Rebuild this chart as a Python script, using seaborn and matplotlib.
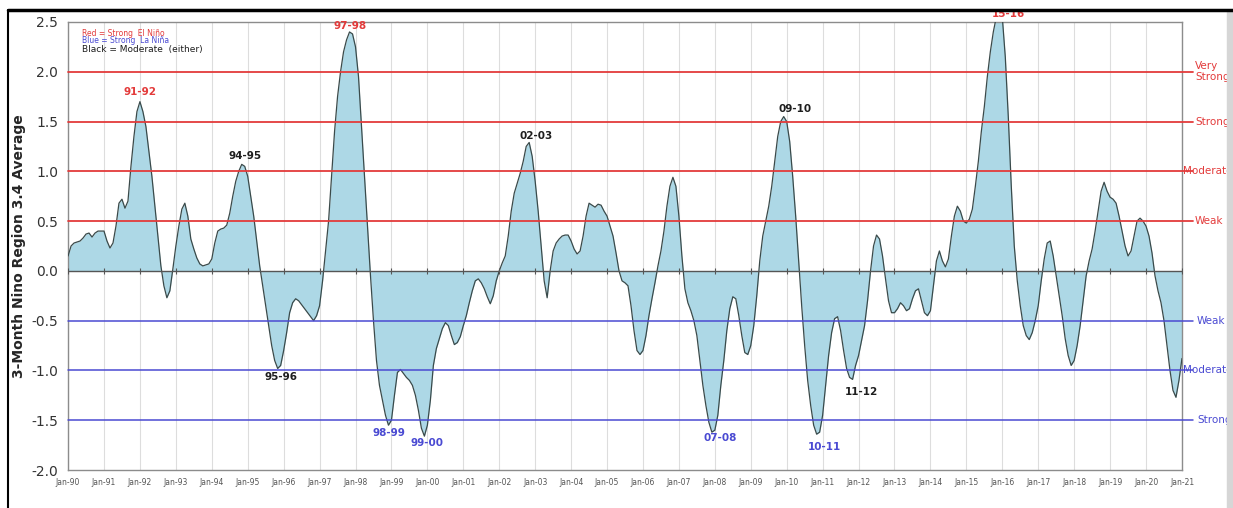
import numpy as np
import pandas as pd
import matplotlib
matplotlib.use("Agg")
import matplotlib.pyplot as plt
from matplotlib.lines import Line2D
from matplotlib.patches import Rectangle
import seaborn as sns

# 3-month Nino 3.4 average, monthly, Jan 1990 .. Jan 2021
oni = [
    # 1990
    0.15, 0.25, 0.28, 0.29, 0.30, 0.33, 0.37, 0.38, 0.34, 0.38, 0.40, 0.40,
    # 1991
    0.40, 0.30, 0.23, 0.28, 0.45, 0.68, 0.72, 0.63, 0.70, 1.05, 1.35, 1.60,
    # 1992
    1.70, 1.60, 1.45, 1.20, 0.95, 0.65, 0.35, 0.05, -0.15, -0.27, -0.20, 0.02,
    # 1993
    0.25, 0.45, 0.62, 0.68, 0.55, 0.32, 0.22, 0.13, 0.07, 0.05, 0.06, 0.07,
    # 1994
    0.12, 0.28, 0.40, 0.42, 0.43, 0.46, 0.58, 0.75, 0.90, 1.00, 1.07, 1.05,
    # 1995
    0.95, 0.75, 0.55, 0.30, 0.05, -0.15, -0.35, -0.55, -0.75, -0.90, -0.98, -0.95,
    # 1996
    -0.80, -0.62, -0.42, -0.32, -0.28, -0.30, -0.34, -0.38, -0.42, -0.46, -0.50, -0.45,
    # 1997
    -0.35, -0.10, 0.20, 0.50, 0.95, 1.40, 1.75, 2.00, 2.20, 2.32, 2.40, 2.38,
    # 1998
    2.25, 1.95, 1.45, 0.95, 0.45, -0.05, -0.50, -0.90, -1.15, -1.30, -1.45, -1.55,
    # 1999
    -1.50, -1.25, -1.02, -0.99, -1.03, -1.07, -1.10, -1.15, -1.25, -1.40, -1.58, -1.66,
    # 2000
    -1.55, -1.30, -0.95, -0.78, -0.68, -0.58, -0.52, -0.55, -0.65, -0.74, -0.72, -0.66,
    # 2001
    -0.55, -0.45, -0.32, -0.20, -0.10, -0.08, -0.12, -0.18, -0.26, -0.33, -0.25, -0.10,
    # 2002
    0.00, 0.08, 0.15, 0.35, 0.60, 0.78, 0.88, 0.98, 1.10, 1.25, 1.29, 1.15,
    # 2003
    0.90, 0.60, 0.25, -0.10, -0.27, 0.00, 0.20, 0.28, 0.32, 0.35, 0.36, 0.36,
    # 2004
    0.30, 0.22, 0.17, 0.20, 0.35, 0.55, 0.68, 0.66, 0.64, 0.67, 0.66, 0.60,
    # 2005
    0.55, 0.45, 0.35, 0.18, 0.00, -0.10, -0.12, -0.15, -0.35, -0.60, -0.80, -0.84,
    # 2006
    -0.80, -0.65, -0.45, -0.28, -0.12, 0.05, 0.20, 0.40, 0.65, 0.85, 0.94, 0.85,
    # 2007
    0.55, 0.15, -0.18, -0.32, -0.40, -0.50, -0.65, -0.90, -1.15, -1.35, -1.52, -1.62,
    # 2008
    -1.60, -1.45, -1.15, -0.90, -0.60, -0.38, -0.26, -0.28, -0.45, -0.65, -0.82, -0.84,
    # 2009
    -0.75, -0.55, -0.25, 0.10, 0.35, 0.50, 0.65, 0.85, 1.10, 1.35, 1.50, 1.55,
    # 2010
    1.50, 1.30, 0.95, 0.55, 0.10, -0.35, -0.75, -1.10, -1.35, -1.55, -1.64, -1.62,
    # 2011
    -1.45, -1.15, -0.85, -0.62, -0.48, -0.46, -0.60, -0.80, -0.98, -1.07, -1.09, -0.95,
    # 2012
    -0.85, -0.70, -0.55, -0.30, 0.00, 0.25, 0.36, 0.32, 0.15, -0.08, -0.30, -0.42,
    # 2013
    -0.42, -0.38, -0.32, -0.35, -0.40, -0.38, -0.28, -0.20, -0.18, -0.30, -0.42, -0.45,
    # 2014
    -0.40, -0.15, 0.10, 0.20, 0.10, 0.04, 0.12, 0.35, 0.55, 0.65, 0.60, 0.50,
    # 2015
    0.48, 0.52, 0.62, 0.85, 1.10, 1.40, 1.65, 1.95, 2.20, 2.40, 2.55, 2.60,
    # 2016
    2.55, 2.15, 1.55, 0.85, 0.25, -0.10, -0.35, -0.55, -0.65, -0.69, -0.62, -0.50,
    # 2017
    -0.35, -0.10, 0.12, 0.28, 0.30, 0.15, -0.05, -0.25, -0.45, -0.68, -0.85, -0.95,
    # 2018
    -0.90, -0.75, -0.55, -0.30, -0.05, 0.10, 0.22, 0.40, 0.60, 0.80, 0.89, 0.80,
    # 2019
    0.74, 0.72, 0.68, 0.55, 0.40, 0.25, 0.15, 0.20, 0.35, 0.50, 0.53, 0.50,
    # 2020
    0.45, 0.35, 0.18, -0.05, -0.20, -0.32, -0.50, -0.75, -1.00, -1.20, -1.27, -1.10,
    # 2021
    -0.88,
]

years = list(range(1990, 2022))
tick_labels = [f"Jan-{y % 100:02d}" for y in years]

nino_levels = [2.0, 1.5, 1.0, 0.5]
nino_names = ["Very\nStrong", "Strong", "Moderate", "Weak"]
nina_levels = [-0.5, -1.0, -1.5]
nina_names = ["Weak", "Moderate", "Strong"]

event_labels = ["91-92", "94-95", "95-96", "97-98", "98-99", "99-00",
                "02-03", "07-08", "09-10", "10-11", "11-12", "15-16"]
event_months = ["1992-01", "1994-11", "1995-11", "1997-11", "1998-12", "1999-12",
                "2002-11", "2007-12", "2009-12", "2010-11", "2011-11", "2015-12"]
event_kind = ["nino", "mod", "mod", "nino", "nina", "nina",
              "mod", "nina", "mod", "nina", "mod", "nino"]

RED = "#e33b3b"
BLUE = "#4a4ad2"
kind_color = {"nino": RED, "nina": BLUE, "mod": "#1e1e1e"}

df = pd.DataFrame({"t": 1990 + np.arange(len(oni)) / 12.0, "oni": oni})

sns.set_theme(style="white")
plt.rcParams["font.family"] = ["DejaVu Sans"]
plt.rcParams["axes.unicode_minus"] = False

fig, ax = plt.subplots(figsize=(12.33, 5.08), dpi=100)
fig.subplots_adjust(left=0.0552, right=0.9586, top=0.9567, bottom=0.0748)

# area + outline
ax.fill_between(df["t"], df["oni"], 0, color="#add8e6", linewidth=0, zorder=2)
sns.lineplot(data=df, x="t", y="oni", ax=ax, color="#3a4a4a", linewidth=0.9, zorder=3)

ax.set_xlim(1990, 2021)
ax.set_ylim(-2.0, 2.5)

# vertical year grid
ax.set_xticks(years)
ax.set_xticklabels(tick_labels, fontsize=5.5, color="#555555")
ax.grid(axis="x", color="#dddddd", linewidth=0.8, zorder=0)
ax.grid(axis="y", visible=False)
ax.tick_params(axis="x", length=0, pad=6)

ax.set_yticks(np.arange(-2.0, 2.51, 0.5))
ax.set_yticklabels([f"{v:.1f}" for v in np.arange(-2.0, 2.51, 0.5)],
                   fontsize=10, color="#333333")
ax.tick_params(axis="y", length=0, pad=7)
ax.set_ylabel("3-Month Nino Region 3.4 Average", fontsize=10, fontweight="bold")
ax.set_xlabel("")

for s in ax.spines.values():
    s.set_color("#8c8c8c")
    s.set_linewidth(1.0)

# zero line with small year ticks
ax.axhline(0, color="#555555", linewidth=1.0, zorder=4)
ax.plot(years, [0] * len(years), linestyle="none", marker="|", markersize=4,
        markeredgewidth=0.8, color="#555555", zorder=4)

# strength thresholds
ytrans = ax.get_yaxis_transform()
for v, name in zip(nino_levels, nino_names):
    ax.axhline(v, xmin=0, xmax=1.0099, color=RED, linewidth=1.3, clip_on=False, zorder=5)
    xpos = 1.0009 if name == "Moderate" else 1.0117
    ax.text(xpos, v, name, transform=ytrans, color=RED, fontsize=7.5,
            va="center", ha="left", linespacing=1.15)
for v, name in zip(nina_levels, nina_names):
    ax.axhline(v, xmin=0, xmax=1.0099, color=BLUE, linewidth=1.1, clip_on=False, zorder=5)
    xpos = 1.0009 if name == "Moderate" else 1.0135
    ax.text(xpos, v, name, transform=ytrans, color=BLUE, fontsize=7.5,
            va="center", ha="left")

# key
ax.text(0.0126, 0.975, "Red = Strong  El Niño", transform=ax.transAxes,
        color=RED, fontsize=5.5, va="center")
ax.text(0.0126, 0.958, "Blue = Strong  La Niña", transform=ax.transAxes,
        color=BLUE, fontsize=5.5, va="center")
ax.text(0.0126, 0.939, "Black = Moderate  (either)", transform=ax.transAxes,
        color="#1e1e1e", fontsize=6.5, va="center")

# event labels, anchored at the curve's extreme
offsets = {"91-92": (0, 10), "94-95": (3, 8), "95-96": (3, -9), "97-98": (1, 6),
           "98-99": (0, -8), "99-00": (3, -7), "02-03": (7, 6), "07-08": (8, -6),
           "09-10": (11, 8), "10-11": (8, -13), "11-12": (9, -13), "15-16": (9, -2)}
for lab, mon, kind in zip(event_labels, event_months, event_kind):
    y, m = int(mon[:4]), int(mon[5:])
    i = (y - 1990) * 12 + (m - 1)
    ax.annotate(lab, xy=(df["t"][i], oni[i]), xytext=offsets[lab],
                textcoords="offset pixels", ha="center", va="center",
                fontsize=7.5, fontweight="bold", color=kind_color[kind],
                annotation_clip=False, zorder=6)

# screenshot frame
fig.add_artist(Line2D([8 / 1233, 1], [498 / 508, 498 / 508], color="black",
                      linewidth=2.5, transform=fig.transFigure))
fig.add_artist(Line2D([8 / 1233, 8 / 1233], [0, 498 / 508], color="black",
                      linewidth=1.5, transform=fig.transFigure))
fig.add_artist(Rectangle((1227 / 1233, 0), 6 / 1233, 497 / 508, color="#d6d6d6",
                         transform=fig.transFigure))

fig.savefig("out.png", dpi=100)
